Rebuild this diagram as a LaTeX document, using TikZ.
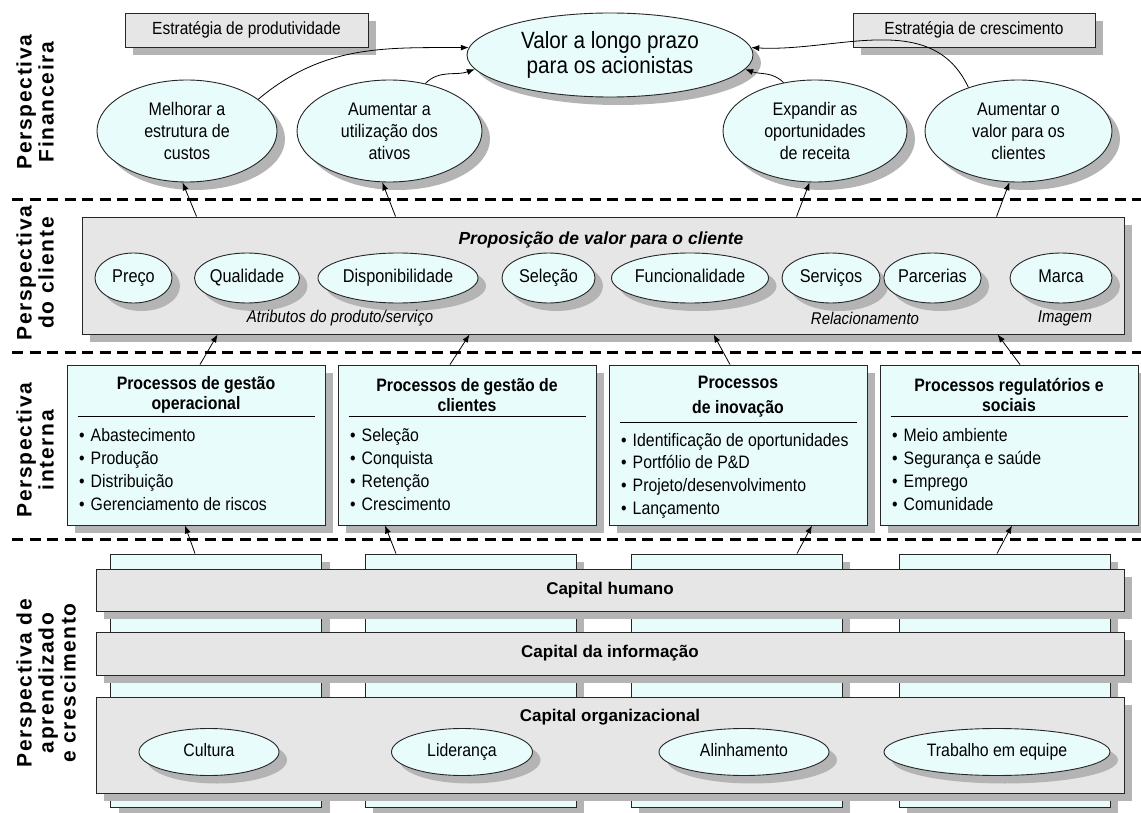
\documentclass[tikz,border=0pt]{standalone}
\usepackage{fontspec}
\setmainfont{Liberation Sans}
\newfontfamily\nar[FakeStretch=0.88]{Liberation Sans}
\newfontfamily\lab[LetterSpace=8]{Liberation Sans}
\usetikzlibrary{shapes.geometric,arrows.meta,shadows}
\definecolor{cy}{HTML}{E8FCFC}
\definecolor{gr}{HTML}{E6E6E6}
\definecolor{sh}{HTML}{B4B4B4}
\tikzset{
 shad/.style={drop shadow={shadow xshift=8pt,shadow yshift=-8pt,fill=sh,opacity=1}},
 ell/.style={ellipse,draw=black!85,line width=0.9pt,fill=cy,inner sep=0pt,shad,align=center},
 gbox/.style={rectangle,draw=black!85,line width=0.9pt,fill=gr,inner sep=0pt,shad},
 cbox/.style={rectangle,draw=black!85,line width=0.9pt,fill=cy,inner sep=0pt,shad},
 arr/.style={-{Latex[length=8pt,width=6pt]},line width=0.8pt},
 sepline/.style={line width=3pt,dash pattern=on 11pt off 6.5pt},
 persp/.style={rotate=90,align=center,font=\lab\bfseries\fontsize{21}{22}\selectfont},
 fin/.style={font=\nar\fontsize{18.2}{22}\selectfont},
 cell/.style={ellipse,draw=black!85,line width=0.9pt,fill=cy,inner sep=0pt,shad,minimum height=50pt,text height=13pt,text depth=4pt,font=\nar\fontsize{18.5}{20}\selectfont},
 sub/.style={font=\nar\itshape\fontsize{17}{18}\selectfont},
 ttl/.style={align=center,font=\nar\bfseries\fontsize{18}{20}\selectfont},
 bul/.style={anchor=base west,inner sep=0pt,font=\nar\fontsize{18}{20}\selectfont},
 barf/.style={font=\bfseries\fontsize{17}{18}\selectfont},
 oell/.style={ellipse,draw=black!85,line width=0.9pt,fill=cy,inner sep=0pt,shad,minimum height=47pt,text height=13pt,text depth=4pt,font=\nar\fontsize{18}{19}\selectfont},
 pbox/.style={cbox,minimum width=258pt,minimum height=160pt},
 col/.style={cbox,minimum width=211pt,minimum height=253pt},
 bar/.style={gbox,minimum width=1028pt,barf},
}
\begin{document}
\begin{tikzpicture}[x=1pt,y=-1pt]
\useasboundingbox[fill=white] (0,0) rectangle (1141,813);
% separators
\draw[sepline] (12,200) -- (1141,200);
\draw[sepline] (12,352) -- (1141,352);
\draw[sepline] (12,539) -- (1141,539);
% perspective labels
\node[persp] (lf) at (35,102) {Perspectiva\\Financeira};
\node[persp] (lc) at (35,273) {Perspectiva\\do cliente};
\node[persp] (li) at (35,450) {Perspectiva\\interna};
\node[persp] (ll) at (46,683) {Perspectiva de\\aprendizado\\e crescimento};
% financial
\node[gbox,minimum width=243pt,minimum height=34pt,font=\nar\fontsize{17.6}{19}\selectfont] (sp) at (246.5,30) {Estratégia de produtividade};
\node[gbox,minimum width=242pt,minimum height=34pt,font=\nar\fontsize{17.6}{19}\selectfont] (sc) at (974,30) {Estratégia de crescimento};
\node[ell,minimum width=286pt,minimum height=84pt,font=\nar\fontsize{23.5}{25}\selectfont] (val) at (610,55) {Valor a longo prazo\\para os acionistas};
\node[ell,fin,minimum width=180pt,minimum height=102pt] (mel) at (187,131) {Melhorar a\\estrutura de\\custos};
\node[ell,fin,minimum width=185pt,minimum height=102pt] (aum) at (389.5,131) {Aumentar a\\utilização dos\\ativos};
\node[ell,fin,minimum width=184pt,minimum height=102pt] (exp) at (815,131) {Expandir as\\oportunidades\\de receita};
\node[ell,fin,minimum width=187pt,minimum height=102pt] (aov) at (1018.5,131) {Aumentar o\\valor para os\\clientes};
\draw[arr] (mel.24) to[out=40,in=180] (val.177);
\draw[arr] (aum.53) to[out=45,in=200] (val.186);
\draw[arr] (exp.123) to[out=135,in=-20] (val.354);
\draw[arr] (aov.139) to[out=115,in=-3] (val.3);
% client
\node[gbox,minimum width=1042pt,minimum height=117pt] (cli) at (603,275.5) {};
\node[font=\bfseries\itshape\fontsize{17.5}{18}\selectfont] (prop) at (601,240) {Proposição de valor para o cliente};
\node[cell,minimum width=77pt] (pre) at (133.5,278) {Preço};
\node[cell,minimum width=90pt] (qua) at (247,278) {Qualidade};
\node[cell,minimum width=160pt] (dis) at (398,278) {Disponibilidade};
\node[cell,minimum width=93pt] (sel) at (548.5,278) {Seleção};
\node[cell,minimum width=157pt] (fun) at (690,278) {Funcionalidade};
\node[cell,minimum width=98pt] (ser) at (831,278) {Serviços};
\node[cell,minimum width=91pt] (par) at (932.5,278) {Parcerias};
\node[cell,minimum width=102pt] (mar) at (1061,278) {Marca};
\node[sub] (atr) at (340,318) {Atributos do produto/serviço};
\node[sub] (rel) at (865,318) {Relacionamento};
\node[sub] (img) at (1065,318) {Imagem};
\draw[arr] ([xshift=115pt]cli.north west) -- (mel.265);
\draw[arr] ([xshift=314pt]cli.north west) -- (aum.262);
\draw[arr] ([xshift=715pt]cli.north west) -- (exp.264);
\draw[arr] ([xshift=915pt]cli.north west) -- (aov.260);
% internal
\node[pbox] (p1) at (196,445) {};
\node[pbox] (p2) at (467,445) {};
\node[pbox] (p3) at (738,445) {};
\node[pbox] (p4) at (1009,445) {};
\node[ttl] (t1) at (196,395) {Processos de gestão\\operacional};
\node[ttl] (t2) at (467,395) {Processos de gestão de\\clientes};
\node[ttl] (t3) at (738,397) {Processos\\[5pt]de inovação};
\node[ttl] (t4) at (1009,395) {Processos regulatórios e\\sociais};
\draw[line width=0.9pt] ([xshift=11pt,yshift=-52pt]p1.north west) -- ([xshift=-10pt,yshift=-52pt]p1.north east);
\draw[line width=0.9pt] ([xshift=11pt,yshift=-52pt]p2.north west) -- ([xshift=-10pt,yshift=-52pt]p2.north east);
\draw[line width=0.9pt] ([xshift=11pt,yshift=-58pt]p3.north west) -- ([xshift=-10pt,yshift=-58pt]p3.north east);
\draw[line width=0.9pt] ([xshift=11pt,yshift=-52pt]p4.north west) -- ([xshift=-10pt,yshift=-52pt]p4.north east);
\foreach \t [count=\i] in {Abastecimento,Produção,Distribuição,Gerenciamento de riscos}
  \node[bul] (b1-\i) at (79,{441+23*(\i-1)}) {•\hspace{6pt}\t};
\foreach \t [count=\i] in {Seleção,Conquista,Retenção,Crescimento}
  \node[bul] (b2-\i) at (350,{441+23*(\i-1)}) {•\hspace{6pt}\t};
\foreach \t [count=\i] in {Identificação de oportunidades,Portfólio de P\&D,Projeto/desenvolvimento,Lançamento}
  \node[bul] (b3-\i) at (621,{446+22.7*(\i-1)}) {•\hspace{6pt}\t};
\foreach \t [count=\i] in {Meio ambiente,Segurança e saúde,Emprego,Comunidade}
  \node[bul] (b4-\i) at (892,{441+23*(\i-1)}) {•\hspace{6pt}\t};
\draw[arr] ([xshift=4pt]p1.north) -- ([xshift=136pt]cli.south west);
\draw[arr] ([xshift=-17pt]p2.north) -- ([xshift=388pt]cli.south west);
\draw[arr] ([xshift=-8pt]p3.north) -- ([xshift=632pt]cli.south west);
\draw[arr] ([xshift=11pt]p4.north) -- ([xshift=916pt]cli.south west);
% learning
\node[col] (c1) at (216,680.5) {};
\node[col] (c2) at (470.5,680.5) {};
\node[col] (c3) at (736.5,680.5) {};
\node[col] (c4) at (1004.5,680.5) {};
\node[bar,minimum height=42pt] (hum) at (610,590) {Capital humano};
\node[bar,minimum height=43pt] (inf) at (610,653.5) {Capital da informação};
\node[bar,minimum height=96pt] (org) at (610,745) {};
\node[barf] (orgt) at (610,717) {Capital organizacional};
\node[oell,minimum width=140pt] (cul) at (209,752) {Cultura};
\node[oell,minimum width=141pt] (lid) at (462,752) {Liderança};
\node[oell,minimum width=170pt] (ali) at (744,752) {Alinhamento};
\node[oell,minimum width=226pt] (tra) at (997,752) {Trabalho em equipe};
\draw[arr] ([xshift=-21pt]c1.north) -- ([xshift=-11pt]p1.south);
\draw[arr] ([xshift=-74.5pt]c2.north) -- ([xshift=-82pt]p2.south);
\draw[arr] ([xshift=60.5pt]c3.north) -- ([xshift=74pt]p3.south);
\draw[arr] ([xshift=-7.5pt]c4.north) -- ([xshift=3pt]p4.south);
\end{tikzpicture}
\end{document}
